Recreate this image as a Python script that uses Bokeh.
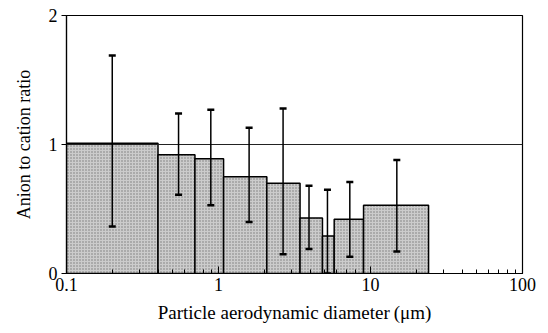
from bokeh.plotting import figure
from bokeh.models import ColumnDataSource, Whisker, TeeHead, Span, FixedTicker
from bokeh.embed import file_html
from bokeh.resources import INLINE

# size-stage bins (particle aerodynamic diameter, um)
bin_left = [0.1, 0.40, 0.70, 1.08, 2.08, 3.44, 4.83, 5.77, 9.0]
bin_right = [0.40, 0.70, 1.08, 2.08, 3.44, 4.83, 5.77, 9.0, 24.1]
ratio = [1.01, 0.92, 0.89, 0.75, 0.70, 0.43, 0.29, 0.42, 0.53]

# error bars
err_x = [0.20, 0.546, 0.89, 1.59, 2.66, 3.94, 5.21, 7.31, 14.9]
err_low = [0.365, 0.61, 0.53, 0.40, 0.15, 0.19, 0.0, 0.13, 0.17]
err_high = [1.69, 1.24, 1.27, 1.13, 1.28, 0.68, 0.65, 0.71, 0.88]

FONT = "Liberation Serif"

p = figure(width=548, height=333, x_axis_type="log", x_range=(0.1, 100), y_range=(0, 2),
           output_backend="svg", toolbar_location=None,
           min_border_left=66, min_border_right=26, min_border_top=15, min_border_bottom=60)
p.frame_width = 456
p.frame_height = 258

bars = ColumnDataSource(dict(left=bin_left, right=bin_right, top=ratio, bottom=[0] * len(ratio)))
p.quad(left="left", right="right", top="top", bottom="bottom", source=bars,
       fill_color="#cccccc", line_color="black", line_width=1.5,
       hatch_pattern="dot", hatch_color="#7a7a7a", hatch_scale=3, hatch_weight=1)

p.add_layout(Span(location=1, dimension="width", line_color="#222222", line_width=1.2))

err = ColumnDataSource(dict(x=err_x, lower=err_low, upper=err_high))
w = Whisker(base="x", lower="lower", upper="upper", source=err, dimension="height",
            line_color="black", line_width=1.5, level="overlay",
            upper_head=TeeHead(size=7, line_width=2.5, line_color="black"),
            lower_head=TeeHead(size=7, line_width=2.5, line_color="black"))
p.add_layout(w)

p.grid.visible = False
p.outline_line_color = "black"
p.outline_line_width = 1.2

p.xaxis.ticker = FixedTicker(ticks=[0.1, 1, 10, 100],
                             minor_ticks=[0.2, 0.3, 0.4, 0.5, 0.6, 0.7, 0.8, 0.9,
                                          2, 3, 4, 5, 6, 7, 8, 9,
                                          20, 30, 40, 50, 60, 70, 80, 90])
p.xaxis.major_label_overrides = {0.1: "0.1", 1: "1", 10: "10", 100: "100"}
p.yaxis.ticker = FixedTicker(ticks=[0, 1, 2])

p.xaxis.axis_label = "Particle aerodynamic diameter\u2009(\u03bcm)"
p.yaxis.axis_label = "Anion to cation ratio"

for ax in (p.xaxis, p.yaxis):
    ax.axis_line_color = "black"
    ax.axis_line_width = 1.2
    ax.major_tick_line_color = "black"
    ax.minor_tick_line_color = "black"
    ax.axis_label_text_font = FONT
    ax.axis_label_text_font_style = "normal"
    ax.axis_label_text_font_size = "18px"
    ax.axis_label_text_color = "black"
    ax.major_label_text_font = FONT
    ax.major_label_text_font_size = "18px"
    ax.major_label_text_color = "black"

p.xaxis.axis_label_text_font_size = "19px"

p.xaxis.major_tick_in = 7
p.xaxis.major_tick_out = 0
p.xaxis.minor_tick_in = 4
p.xaxis.minor_tick_out = 0
p.xaxis.major_label_standoff = 4
p.xaxis.axis_label_standoff = 8

p.yaxis.major_tick_in = 0
p.yaxis.major_tick_out = 5
p.yaxis.minor_tick_line_color = None
p.yaxis.major_label_standoff = 4
p.yaxis.axis_label_standoff = 12

open("out.html", "w").write(file_html(p, INLINE))
